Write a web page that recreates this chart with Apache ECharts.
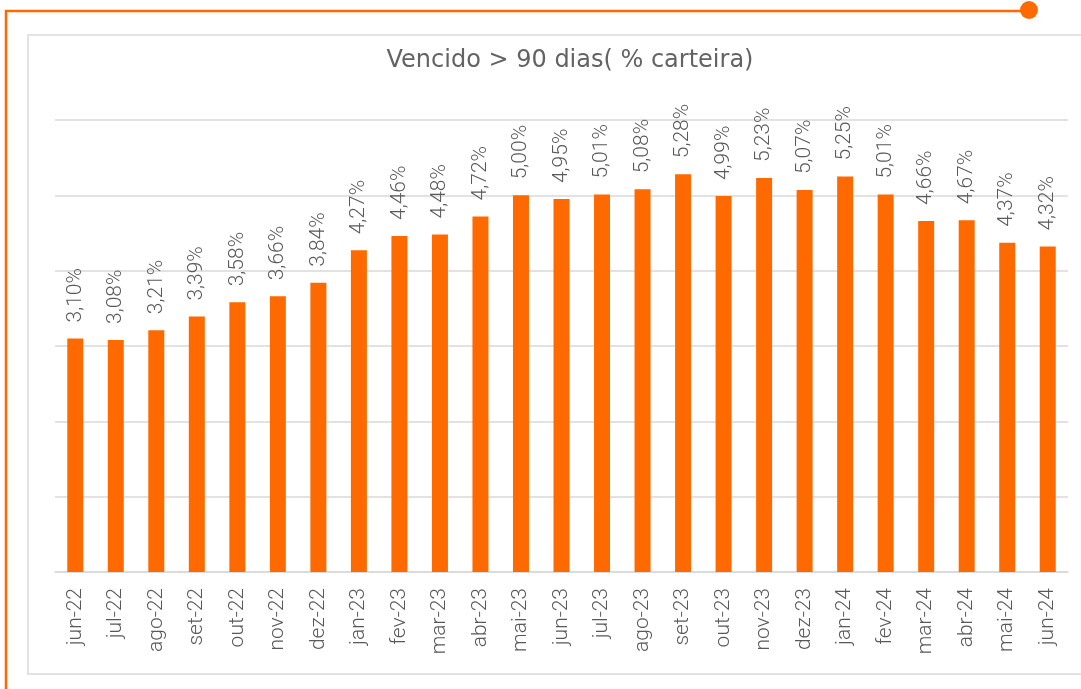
<!DOCTYPE html>
<html>
<head>
<meta charset="utf-8">
<script src="https://cdn.jsdelivr.net/npm/echarts@6/dist/echarts.min.js"></script>
<style>
  html, body { margin: 0; padding: 0; background: #fff; }
  #chart { width: 1081px; height: 689px; }
</style>
</head>
<body>
<div id="chart"></div>
<script>
var meses = ['jun-22', 'jul-22', 'ago-22', 'set-22', 'out-22', 'nov-22', 'dez-22',
  'jan-23', 'fev-23', 'mar-23', 'abr-23', 'mai-23', 'jun-23', 'jul-23', 'ago-23',
  'set-23', 'out-23', 'nov-23', 'dez-23', 'jan-24', 'fev-24', 'mar-24', 'abr-24',
  'mai-24', 'jun-24'];
var vencido = [3.10, 3.08, 3.21, 3.39, 3.58, 3.66, 3.84, 4.27, 4.46, 4.48, 4.72,
  5.00, 4.95, 5.01, 5.08, 5.28, 4.99, 5.23, 5.07, 5.25, 5.01, 4.66, 4.67, 4.37, 4.32];
var titulo = 'Vencido > 90 dias( % carteira)';

var laranja = '#ff6a00';
var cinza = '#595959';
var fonte = 'Roboto, "Noto Sans", sans-serif';

var myChart = echarts.init(document.getElementById('chart'));

var option = {
  animation: false,
  title: {
    text: titulo,
    left: 565,
    textAlign: 'center',
    top: 44,
    textStyle: { fontFamily: '"DejaVu Sans", sans-serif', fontSize: 24, fontWeight: 'normal', color: '#636363' }
  },
  grid: { left: 55, right: 13, top: 120, bottom: 117 },
  graphic: [
    // moldura laranja
    { type: 'polyline', z: 10, shape: { points: [[6, 689], [6, 11], [1029, 11]] },
      style: { stroke: laranja, lineWidth: 2.5, fill: null } },
    { type: 'circle', z: 10, shape: { cx: 1029, cy: 10, r: 9 }, style: { fill: laranja } },
    // caixa cinza
    { type: 'rect', z: -1, shape: { x: 28, y: 35, width: 1070, height: 639 },
      style: { stroke: '#d9d9d9', lineWidth: 1.5, fill: '#fff' } }
  ],
  xAxis: {
    type: 'category',
    data: meses,
    axisLine: { lineStyle: { color: '#d9d9d9', width: 1.5 } },
    axisTick: { show: false },
    axisLabel: {
      interval: 0,
      rotate: 90,
      margin: 16,
      fontFamily: fonte,
      fontSize: 21,
      fontWeight: 300,
      color: cinza
    }
  },
  yAxis: {
    type: 'value',
    min: 0,
    max: 6,
    interval: 1,
    axisLabel: { show: false },
    axisLine: { show: false },
    axisTick: { show: false },
    splitLine: { lineStyle: { color: '#d9d9d9', width: 1.5 } }
  },
  series: [{
    type: 'bar',
    data: vencido,
    barWidth: 16,
    itemStyle: { color: laranja },
    label: {
      show: true,
      position: 'top',
      rotate: 90,
      align: 'left',
      verticalAlign: 'middle',
      distance: 16,
      fontFamily: fonte,
      fontSize: 21,
      fontWeight: 300,
      color: cinza,
      formatter: function (p) {
        return p.value.toFixed(2).replace('.', ',') + '%';
      }
    }
  }]
};
myChart.setOption(option);
</script>
</body>
</html>
